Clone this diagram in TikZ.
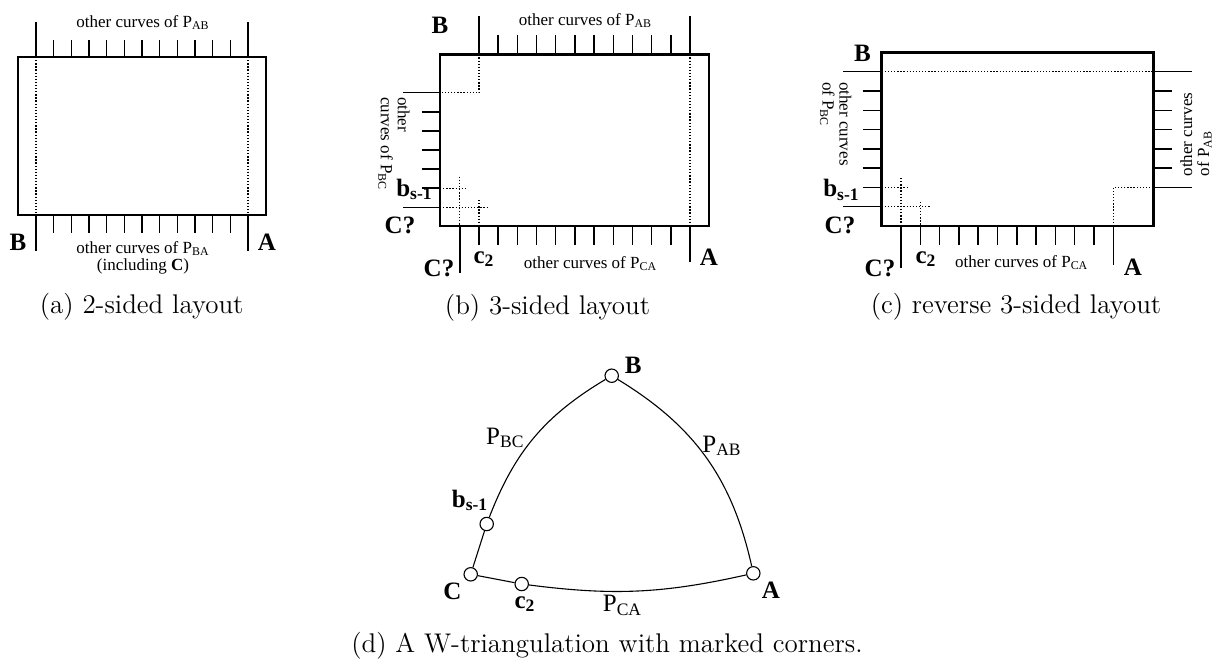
\documentclass[tikz,border=0pt]{standalone}
\usepackage{fontspec}
\newfontfamily\tms{Liberation Serif}
\tikzset{boxedge/.style = {line width=1.45pt}}
\tikzset{tickln/.style = {line width=0.75pt}}
\tikzset{dotln/.style = {line width=0.65pt, dash pattern=on 0.65pt off 0.9pt}}
\tikzset{curvetxt/.style = {font=\tms\fontsize{8.5}{8.5}\selectfont, inner sep=0}}
\tikzset{ptlbl/.style = {font=\tms\bfseries\fontsize{12.5}{13}\selectfont, inner sep=0}}
\tikzset{pathlbl/.style = {font=\tms\fontsize{12.5}{13}\selectfont, inner sep=0}}
\tikzset{subcap/.style = {font=\fontsize{13.5}{15}\selectfont, inner sep=0}}
\tikzset{corner/.style = {draw, fill=white, circle, inner sep=0,
                          minimum size=6.7pt, line width=0.55pt}}

\begin{document}
\begin{tikzpicture}[x=0.5pt, y=-0.5pt]
    \useasboundingbox (0,0) rectangle (1219,665);

    \foreach \i in {1,...,11}{
        \draw[tickln] (36+\i*17.667,40) -- (36+\i*17.667,57);
        \draw[tickln] (36+\i*17.667,215) -- (36+\i*17.667,233);
    }
    \foreach \x in {36,248}{
        \draw[tickln] (\x,22) -- (\x,57);
        \draw[dotln] (\x,57) -- (\x,215);
        \draw[tickln] (\x,215) -- (\x,251);
    }
    \draw[boxedge] (18,57) rectangle (266,215);
    \node[curvetxt, anchor=base] (aTop) at (143,27) {other curves of P\textsubscript{AB}};
    \node[curvetxt, anchor=base] (aBot) at (143,253.3) {other curves of P\textsubscript{BA}};
    \node[curvetxt, anchor=base] (aInc) at (143,270) {(including \textbf{C})};
    \node[ptlbl, anchor=base] (aB) at (18,250) {B};
    \node[ptlbl, anchor=base] (aA) at (267,250) {A};
    \node[subcap, anchor=base] (capA) at (141.7,313) {(a) 2-sided layout};

    \foreach \i in {1,...,10}
        \draw[tickln] (479+\i*19.18,35) -- (479+\i*19.18,54.3);
    \foreach \i in {1,...,11}
        \draw[tickln] (459.8+\i*19.18,226) -- (459.8+\i*19.18,245);
    \foreach \i in {1,...,5}
        \draw[tickln] (421.7,92.7+\i*19.1) -- (440,92.7+\i*19.1);
    \draw[tickln] (479,16) -- (479,54.3);
    \draw[tickln] (690,16) -- (690,54.3);
    \draw[tickln] (459.8,226) -- (459.8,273);
    \draw[tickln] (690,226) -- (690,262);
    \draw[tickln] (403,92.7) -- (440,92.7);
    \draw[tickln] (403,207.3) -- (440,207.3);
    \draw[dotln] (479,54.3) -- (479,92.7) -- (440,92.7);
    \draw[dotln] (690,54.3) -- (690,226);
    \draw[dotln] (440,188.2) -- (466,188.2);
    \draw[dotln] (459.8,176.7) -- (459.8,226);
    \draw[dotln] (440,207.3) -- (488,207.3);
    \draw[dotln] (479,200) -- (479,226);
    \draw[boxedge] (440,54.3) rectangle (709,226);
    \node[ptlbl, anchor=base] (bB) at (440,33.3) {B};
    \node[curvetxt, anchor=base] (bTop) at (585.5,25) {other curves of P\textsubscript{AB}};
    \node[curvetxt, rotate=-90, anchor=north west, align=left] (bLeft) at (410,96.7)
        {other\\curves of P\textsubscript{BC}};
    \node[ptlbl, anchor=base east] (bbs) at (433,196) {b\textsubscript{s-1}};
    \node[ptlbl, anchor=base] (bC1) at (400,233) {C?};
    \node[ptlbl, anchor=base] (bC2) at (439,276.7) {C?};
    \node[ptlbl, anchor=base] (bc2) at (484,263) {c\textsubscript{2}};
    \node[curvetxt, anchor=base] (bBot) at (590.5,268) {other curves of P\textsubscript{CA}};
    \node[ptlbl, anchor=base] (bA) at (709,265) {A};
    \node[subcap, anchor=base] (capB) at (547.5,314) {(b) 3-sided layout};

    \foreach \i in {1,...,6}
        \draw[tickln] (862.7,71.7+\i*19.29) -- (881.7,71.7+\i*19.29);
    \foreach \i in {1,...,5}
        \draw[tickln] (1153.3,71.7+\i*19.29) -- (1171.7,71.7+\i*19.29);
    \foreach \i in {1,...,10}
        \draw[tickln] (901+\i*19.3,226) -- (901+\i*19.3,245);
    \draw[tickln] (843.3,71.7) -- (881.7,71.7);
    \draw[tickln] (843.3,206.7) -- (881.7,206.7);
    \draw[tickln] (1153.3,71.7) -- (1191.7,71.7);
    \draw[tickln] (1153.3,187.4) -- (1191.7,187.4);
    \draw[tickln] (901,226) -- (901,268);
    \draw[tickln] (1113.3,226) -- (1113.3,265);
    \draw[dotln] (881.7,71.7) -- (1153.3,71.7);
    \draw[dotln] (1153.3,187.4) -- (1113.3,187.4) -- (1113.3,226);
    \draw[dotln] (881.7,187.4) -- (906.7,187.4);
    \draw[dotln] (901,178) -- (901,226);
    \draw[dotln] (881.7,206.7) -- (930,206.7);
    \draw[dotln] (920.3,201.7) -- (920.3,226);
    \draw[boxedge] (881.7,52.3) rectangle (1153.3,226);
    \node[ptlbl, anchor=base] (cB) at (862.5,61.7) {B};
    \node[curvetxt, rotate=-90, anchor=north west, align=left] (cLeft) at (851.7,81.7)
        {other curves\\of P\textsubscript{BC}};
    \node[curvetxt, rotate=90, anchor=north west, align=left] (cRight) at (1180,176.7)
        {other curves\\of P\textsubscript{AB}};
    \node[ptlbl, anchor=base east] (cbs) at (860,196.7) {b\textsubscript{s-1}};
    \node[ptlbl, anchor=base] (cC1) at (840,233) {C?};
    \node[ptlbl, anchor=base] (cC2) at (880,276.7) {C?};
    \node[ptlbl, anchor=base] (cc2) at (926,263) {c\textsubscript{2}};
    \node[curvetxt, anchor=base] (cBot) at (1021.7,267) {other curves of P\textsubscript{CA}};
    \node[ptlbl, anchor=base] (cA) at (1133,275) {A};
    \node[subcap, anchor=base] (capC) at (1016,313) {(c) reverse 3-sided layout};

    \node[corner] (B) at (611.7,375.7) {};
    \node[corner] (bs) at (486.7,524) {};
    \node[corner] (C) at (470.7,574.3) {};
    \node[corner] (c2) at (521.7,584) {};
    \node[corner] (A) at (753.3,573.3) {};
    \draw[line width=0.55pt] (B) to[bend left=23] (A);
    \draw[line width=0.55pt] (B) to[bend right=19] (bs);
    \draw[line width=0.55pt] (bs) -- (C);
    \draw[line width=0.55pt] (C) -- (c2);
    \draw[line width=0.55pt] (c2) to[bend right=10] (A);
    \node[ptlbl, anchor=base] (lB) at (633.3,373.3) {B};
    \node[pathlbl, anchor=base] (lBC) at (505.3,444.3) {P\textsubscript{BC}};
    \node[pathlbl, anchor=base] (lAB) at (722,452.3) {P\textsubscript{AB}};
    \node[ptlbl, anchor=base] (lbs) at (470,507.3) {b\textsubscript{s-1}};
    \node[ptlbl, anchor=base] (lC) at (452.5,599.3) {C};
    \node[ptlbl, anchor=base] (lc2) at (525,608.3) {c\textsubscript{2}};
    \node[pathlbl, anchor=base] (lCA) at (622.5,611.7) {P\textsubscript{CA}};
    \node[ptlbl, anchor=base] (lA) at (770.8,598.3) {A};
    \node[subcap, anchor=base] (capD) at (607,652.5) {(d) A W-triangulation with marked corners.};
\end{tikzpicture}
\end{document}
